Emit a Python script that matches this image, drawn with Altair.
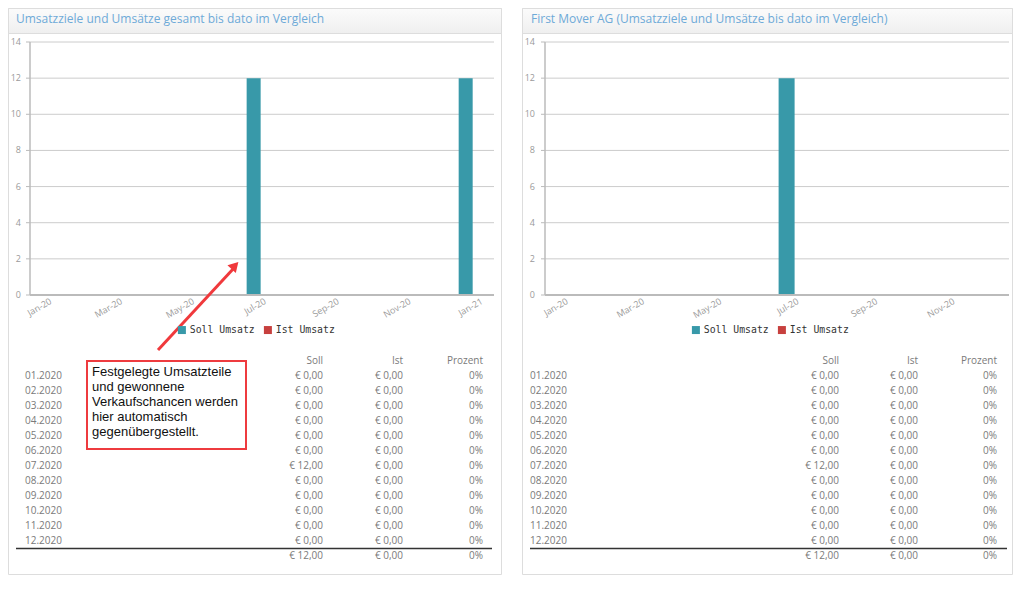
import altair as alt
import pandas as pd

# ---------------- data ----------------
series_names = ["Soll Umsatz", "Ist Umsatz"]
series_colors = ["#3899a9", "#c7403e"]

left_months = ["2020-01-01", "2020-02-01", "2020-03-01", "2020-04-01", "2020-05-01",
               "2020-06-01", "2020-07-01", "2020-08-01", "2020-09-01", "2020-10-01",
               "2020-11-01", "2020-12-01", "2021-01-01"]
left_soll = [0, 0, 0, 0, 0, 0, 12, 0, 0, 0, 0, 0, 12]
left_ist = [0, 0, 0, 0, 0, 0, 0, 0, 0, 0, 0, 0, 0]

right_months = ["2020-01-01", "2020-02-01", "2020-03-01", "2020-04-01", "2020-05-01",
                "2020-06-01", "2020-07-01", "2020-08-01", "2020-09-01", "2020-10-01",
                "2020-11-01", "2020-12-01"]
right_soll = [0, 0, 0, 0, 0, 0, 12, 0, 0, 0, 0, 0]
right_ist = [0, 0, 0, 0, 0, 0, 0, 0, 0, 0, 0, 0]

y_ticks = [0, 2, 4, 6, 8, 10, 12, 14]

left_tick_dates = ["2020-01-01", "2020-03-01", "2020-05-01", "2020-07-01",
                   "2020-09-01", "2020-11-01", "2021-01-01"]
left_tick_labels = ["Jan-20", "Mar-20", "May-20", "Jul-20", "Sep-20", "Nov-20", "Jan-21"]
right_tick_dates = ["2020-01-01", "2020-03-01", "2020-05-01", "2020-07-01",
                    "2020-09-01", "2020-11-01"]
right_tick_labels = ["Jan-20", "Mar-20", "May-20", "Jul-20", "Sep-20", "Nov-20"]

table_header = ["Soll", "Ist", "Prozent"]
table_months = ["01.2020", "02.2020", "03.2020", "04.2020", "05.2020", "06.2020",
                "07.2020", "08.2020", "09.2020", "10.2020", "11.2020", "12.2020"]
left_table_soll = ["€ 0,00", "€ 0,00", "€ 0,00", "€ 0,00", "€ 0,00", "€ 0,00",
                   "€ 12,00", "€ 0,00", "€ 0,00", "€ 0,00", "€ 0,00", "€ 0,00"]
left_table_ist = ["€ 0,00", "€ 0,00", "€ 0,00", "€ 0,00", "€ 0,00", "€ 0,00",
                  "€ 0,00", "€ 0,00", "€ 0,00", "€ 0,00", "€ 0,00", "€ 0,00"]
left_table_pct = ["0%", "0%", "0%", "0%", "0%", "0%", "0%", "0%", "0%", "0%", "0%", "0%"]
left_total = ["€ 12,00", "€ 0,00", "0%"]
right_table_soll = ["€ 0,00", "€ 0,00", "€ 0,00", "€ 0,00", "€ 0,00", "€ 0,00",
                    "€ 12,00", "€ 0,00", "€ 0,00", "€ 0,00", "€ 0,00", "€ 0,00"]
right_table_ist = ["€ 0,00", "€ 0,00", "€ 0,00", "€ 0,00", "€ 0,00", "€ 0,00",
                   "€ 0,00", "€ 0,00", "€ 0,00", "€ 0,00", "€ 0,00", "€ 0,00"]
right_table_pct = ["0%", "0%", "0%", "0%", "0%", "0%", "0%", "0%", "0%", "0%", "0%", "0%"]
right_total = ["€ 12,00", "€ 0,00", "0%"]

left_title = "Umsatzziele und Umsätze gesamt bis dato im Vergleich"
right_title = "First Mover AG (Umsatzziele und Umsätze bis dato im Vergleich)"

annotation_lines = ["Festgelegte Umsatzteile", "und gewonnene", "Verkaufschancen werden",
                    "hier automatisch", "gegenübergestellt."]

# ---------------- styling / layout ----------------
TXT = "Open Sans"
GRID = "#cccccc"
LABEL = "#9a9a9a"
TABLE_TXT = "#7a7a7a"

LEFT = dict(x0=0, x1=494, y1=567, head=25, title=left_title, title_x=8,
            px=[22, 486], py=[287, 34],
            dom=[alt.DateTime(year=2019, month=12, date=16, utc=True),
                 alt.DateTime(year=2021, month=1, date=13, utc=True)],
            bar=14, bar_off=-9.5, legx=169, legy=317, ylab_x=13,
            months=left_months, soll=left_soll, ist=left_ist,
            tdates=left_tick_dates, tlabels=left_tick_labels,
            tab_x=[17, 315, 395, 475], line_x=[8, 484],
            t_soll=left_table_soll, t_ist=left_table_ist, t_pct=left_table_pct, total=left_total)

RIGHT = dict(x0=514, x1=1005, y1=567, head=25, title=right_title, title_x=523,
             px=[537, 1001], py=[287, 34],
             dom=[alt.DateTime(year=2019, month=12, date=16, utc=True),
                  alt.DateTime(year=2020, month=12, date=16, utc=True)],
             bar=16, bar_off=-9, legx=683, legy=317, ylab_x=527,
             months=right_months, soll=right_soll, ist=right_ist,
             tdates=right_tick_dates, tlabels=right_tick_labels,
             tab_x=[522, 831, 910, 989], line_x=[522, 999],
             t_soll=right_table_soll, t_ist=right_table_ist, t_pct=right_table_pct, total=right_total)

dummy = pd.DataFrame({"k": [0]})


def panel(p):
    L = []
    xs = alt.Scale(type="utc", domain=p["dom"], range=p["px"], nice=False)
    ys = alt.Scale(domain=[0, 14], range=p["py"], nice=False, zero=False)

    # panel frame + header
    L.append(alt.Chart(dummy).mark_rect(fill="white", stroke="#dddddd", strokeWidth=1).encode(
        x=alt.value(p["x0"] + 0.5), x2=alt.value(p["x1"] - 0.5),
        y=alt.value(0.5), y2=alt.value(p["y1"] - 0.5)))
    L.append(alt.Chart(dummy).mark_rect(
        fill=alt.LinearGradient(gradient="linear", x1=0, x2=0, y1=0, y2=1,
                                stops=[alt.GradientStop(offset=0, color="#fbfbfb"),
                                       alt.GradientStop(offset=1, color="#efefef")]),
        stroke="#dddddd", strokeWidth=1).encode(
        x=alt.value(p["x0"] + 0.5), x2=alt.value(p["x1"] - 0.5),
        y=alt.value(0.5), y2=alt.value(p["head"] + 0.5)))
    L.append(alt.Chart(dummy).mark_text(align="left", baseline="middle", font=TXT, fontSize=12,
                                        color="#6eaad8").encode(
        x=alt.value(p["title_x"]), y=alt.value(11), text=alt.value(p["title"])))

    # gridlines
    ydf = pd.DataFrame({"v": y_ticks})
    L.append(alt.Chart(ydf).mark_rule(color=GRID, strokeWidth=1).encode(
        y=alt.Y("v:Q", scale=ys, axis=None),
        x=alt.value(p["px"][0]), x2=alt.value(p["px"][1])))
    # y axis tick marks
    L.append(alt.Chart(ydf).mark_rule(color="#bbbbbb", strokeWidth=1).encode(
        y=alt.Y("v:Q", scale=ys, axis=None),
        x=alt.value(p["px"][0] - 4), x2=alt.value(p["px"][0])))
    # y axis line
    L.append(alt.Chart(dummy).mark_rule(color="#bbbbbb", strokeWidth=1.5).encode(
        x=alt.value(p["px"][0]), y=alt.Y(datum=14, scale=ys, axis=None), y2=alt.Y2(datum=0)))
    # y labels
    L.append(alt.Chart(ydf).mark_text(align="right", baseline="middle", font=TXT, fontSize=9,
                                      color=LABEL).encode(
        y=alt.Y("v:Q", scale=ys, axis=None), x=alt.value(p["ylab_x"]), text="v:Q"))

    # bars
    bdf = pd.DataFrame({
        "date": p["months"] + p["months"],
        "series": [series_names[0]] * len(p["months"]) + [series_names[1]] * len(p["months"]),
        "value": p["soll"] + p["ist"],
    })
    L.append(alt.Chart(bdf).mark_bar(size=p["bar"], xOffset=p["bar_off"]).encode(
        x=alt.X("date:T", scale=xs, axis=None),
        y=alt.Y("value:Q", scale=ys, axis=None, stack=None),
        color=alt.Color("series:N",
                        scale=alt.Scale(domain=series_names, range=series_colors),
                        legend=alt.Legend(orient="none", legendX=p["legx"], legendY=p["legy"],
                                          direction="horizontal", title=None,
                                          symbolType="square", symbolSize=64,
                                          symbolStrokeWidth=0, labelFont="DejaVu Sans Mono",
                                          labelFontSize=9.8, labelColor="#333333",
                                          labelOffset=3, columnPadding=8, padding=0,
                                          offset=0))))

    # x axis line
    L.append(alt.Chart(dummy).mark_rule(color="#bbbbbb", strokeWidth=2).encode(
        y=alt.Y(datum=0, scale=ys, axis=None),
        x=alt.value(p["px"][0]), x2=alt.value(p["px"][1])))

    # x labels
    tdf = pd.DataFrame({"d": p["tdates"], "lab": p["tlabels"]})
    L.append(alt.Chart(tdf).mark_text(align="right", baseline="top", angle=330, font=TXT,
                                      fontSize=9, color=LABEL, dx=0).encode(
        x=alt.X("d:T", scale=xs, axis=None), y=alt.value(p["py"][0] + 2), text="lab:N"))

    # table
    rows = ["header"] + table_months + ["total"]
    recs = []
    for ci, h in zip([1, 2, 3], table_header):
        recs.append({"row": "header", "ci": ci, "txt": h})
    for i, m in enumerate(table_months):
        recs.append({"row": m, "ci": 0, "txt": m})
        recs.append({"row": m, "ci": 1, "txt": p["t_soll"][i]})
        recs.append({"row": m, "ci": 2, "txt": p["t_ist"][i]})
        recs.append({"row": m, "ci": 3, "txt": p["t_pct"][i]})
    for ci, v in zip([1, 2, 3], p["total"]):
        recs.append({"row": "total", "ci": ci, "txt": v})
    tab = pd.DataFrame(recs)
    rs = alt.Scale(type="point", domain=rows, range=[353, 548], padding=0)
    cs = alt.Scale(type="linear", domain=[0, 1, 2, 3], range=p["tab_x"], nice=False, zero=False)
    L.append(alt.Chart(tab).transform_filter(alt.datum.ci == 0).mark_text(
        align="left", baseline="middle", font=TXT, fontSize=10, color=TABLE_TXT).encode(
        x=alt.X("ci:Q", scale=cs, axis=None), y=alt.Y("row:N", scale=rs, axis=None), text="txt:N"))
    L.append(alt.Chart(tab).transform_filter(alt.datum.ci > 0).mark_text(
        align="right", baseline="middle", font=TXT, fontSize=10, color=TABLE_TXT).encode(
        x=alt.X("ci:Q", scale=cs, axis=None), y=alt.Y("row:N", scale=rs, axis=None), text="txt:N"))
    L.append(alt.Chart(dummy).mark_rule(color="#333333", strokeWidth=1.5).encode(
        x=alt.value(p["line_x"][0]), x2=alt.value(p["line_x"][1]), y=alt.value(540.5)))
    return L


layers = panel(LEFT) + panel(RIGHT)

# annotation box, text and arrow
layers.append(alt.Chart(dummy).mark_rect(fill="white", stroke="#ee3b3f", strokeWidth=2).encode(
    x=alt.value(79), x2=alt.value(238), y=alt.value(353), y2=alt.value(441)))
layers.append(alt.Chart(dummy).mark_text(align="left", baseline="top", font="Liberation Sans",
                                         fontSize=13, color="#111111", lineHeight=15,
                                         text=annotation_lines).encode(
    x=alt.value(84), y=alt.value(358)))
layers.append(alt.Chart(dummy).mark_rule(color="#f0393c", strokeWidth=3).encode(
    x=alt.value(150), y=alt.value(342), x2=alt.value(226), y2=alt.value(260)))
layers.append(alt.Chart(dummy).mark_point(shape="triangle-up", filled=True, size=130, angle=43,
                                          color="#f0393c", opacity=1).encode(
    x=alt.value(227), y=alt.value(257.5)))

chart = alt.layer(*layers).resolve_scale(
    x="independent", y="independent", color="independent"
).properties(
    width=1008, height=579, autosize=alt.AutoSizeParams(type="none"), padding=0,
    background="white"
).configure_view(stroke=None)

chart.save("out.html", embed_options={"renderer": "svg", "actions": False})
